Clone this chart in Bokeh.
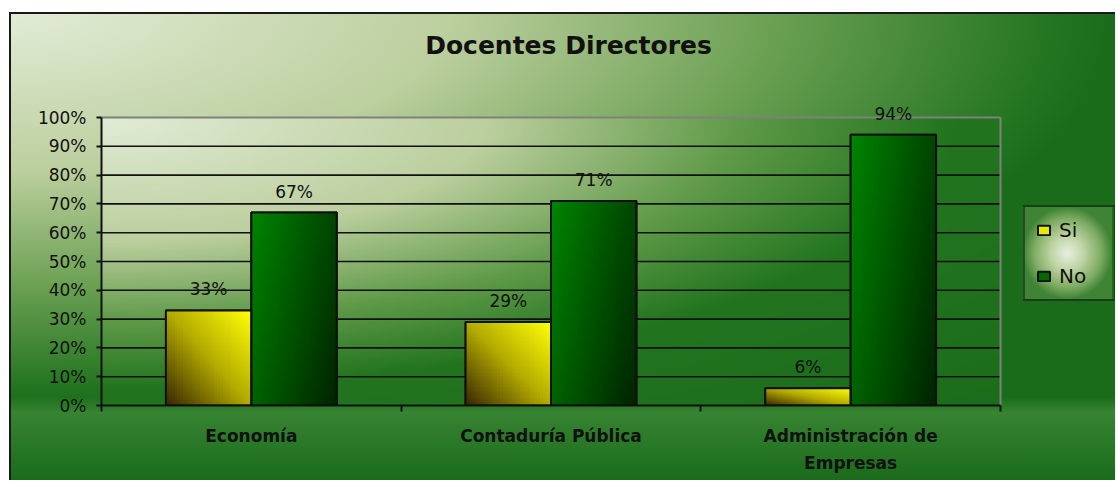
import numpy as np
from bokeh.plotting import figure
from bokeh.models import (Range1d, FixedTicker, NumeralTickFormatter, ColumnDataSource,
                          LabelSet, Label, Legend, LegendItem)
from bokeh.core.properties import value
from bokeh.embed import file_html
from bokeh.resources import INLINE

# ---------------- data ----------------
chart_title = "Docentes Directores"
categories = ["Economía", "Contaduría Pública", "Administración de\nEmpresas"]
series_names = ["Si", "No"]
si_values = [0.33, 0.29, 0.06]
no_values = [0.67, 0.71, 0.94]
y_ticks = [0.0, 0.1, 0.2, 0.3, 0.4, 0.5, 0.6, 0.7, 0.8, 0.9, 1.0]

# ---------------- style ----------------
FONT = "DejaVu Sans"
BAR_W = 0.285
W, H = 1106, 468
LEFT, BOTTOM = 92, 75
X_HEAD = (W - LEFT) / 899.0      # plot area is 899 px wide inside a wider frame
Y_HEAD = (H - BOTTOM) / 288.0    # plot area is 288 px tall inside a taller frame
n = len(categories)
y_max = y_ticks[-1]


def hex2rgb(h):
    h = h.lstrip("#")
    return tuple(int(h[i:i + 2], 16) for i in (0, 2, 4))


def gradient(t, stops):
    pos = np.array([s[0] for s in stops])
    cols = np.array([hex2rgb(s[1]) for s in stops], dtype=float)
    out = np.zeros(t.shape + (3,))
    for c in range(3):
        out[..., c] = np.interp(t, pos, cols[:, c])
    return out


def to_rgba(rgb):
    h, w = rgb.shape[:2]
    img = np.empty((h, w), dtype=np.uint32)
    view = img.view(dtype=np.uint8).reshape((h, w, 4))
    view[..., :3] = np.clip(rgb, 0, 255).astype(np.uint8)
    view[..., 3] = 255
    return img


# plot-area gradient (radial from the top-left corner)
area_stops = [(0.0, "#e2ecd6"), (0.43, "#bccf9e"), (0.71, "#5f9a48"), (0.95, "#22741f"), (1.5, "#1a6c1a")]
gh, gw = 120, 360
u = np.linspace(0, 1, gw)[None, :]
vt = 1 - np.linspace(0, 1, gh)[:, None]          # row 0 is the bottom
bg_img = to_rgba(gradient(np.sqrt(u ** 2 + vt ** 2), area_stops))

# bar gradients
bh, bw = 60, 30
bu = np.linspace(0, 1, bw)[None, :]
bv = np.linspace(0, 1, bh)[:, None]               # 0 bottom, 1 top
yellow_img = to_rgba(gradient((bu + bv) / 2, [(0.0, "#3a2a00"), (0.5, "#b4ac00"), (1.0, "#ffff08")]))
green_img = to_rgba(gradient(0.65 * bu + 0.35 * (1 - bv), [(0.0, "#008400"), (1.0, "#002400")]))

p = figure(width=W, height=H, title=None,
           x_range=Range1d(0, n * X_HEAD), y_range=Range1d(0, y_max * Y_HEAD),
           output_backend="svg", toolbar_location=None,
           min_border_left=LEFT, min_border_top=0, min_border_right=0, min_border_bottom=BOTTOM,
           border_fill_color=None, background_fill_color=None, outline_line_color=None)

css_stops = "#e2ecd6 0%, #bccf9e 40%, #6ea255 68%, #22741f 95%, #1a6c1a 100%"
ry = int(H * 0.85)
p.styles = {
    "margin-left": "9px",
    "margin-top": "12px",
    "background": (
        "radial-gradient(farthest-side at 50% 50%, #e8efe0 0%, #c2d6a8 35%, #7eac62 75%, #3f8434 100%) "
        "1014px 195px / 89px 92px no-repeat, "
        "linear-gradient(180deg, rgba(90,160,80,0) 0px, rgba(90,160,80,0) 385px, "
        "rgba(90,160,80,0.45) 400px, rgba(90,160,80,0) 468px), "
        f"radial-gradient(ellipse {W}px {ry}px at 0px 0px, {css_stops})"
    ),
    "box-shadow": "inset 2px 2px 0 0 #1a1a1a",
}

# plot area background
p.image_rgba(image=[bg_img], x=0, y=0, dw=n, dh=y_max, level="image")

# horizontal grid lines across the plot area only
p.segment(x0=[0] * (len(y_ticks) - 2), x1=[n] * (len(y_ticks) - 2),
          y0=y_ticks[1:-1], y1=y_ticks[1:-1],
          line_color="#111111", line_width=1.6, level="underlay")

# plot area border (top and right), gray
p.segment(x0=[0, n], y0=[y_max, 0], x1=[n, n], y1=[y_max, y_max],
          line_color="#808080", line_width=2)

xs_si = [i + 0.5 - BAR_W / 2 for i in range(n)]
xs_no = [i + 0.5 + BAR_W / 2 for i in range(n)]

r_si = p.vbar(x=xs_si, top=si_values, bottom=0, width=BAR_W,
              fill_color="#e8e800", line_color="#111111", line_width=2)
r_no = p.vbar(x=xs_no, top=no_values, bottom=0, width=BAR_W,
              fill_color="#006a00", line_color="#111111", line_width=2)
p.image_rgba(image=[yellow_img] * n, x=[x - BAR_W / 2 for x in xs_si], y=[0] * n,
             dw=[BAR_W] * n, dh=si_values)
p.image_rgba(image=[green_img] * n, x=[x - BAR_W / 2 for x in xs_no], y=[0] * n,
             dw=[BAR_W] * n, dh=no_values)
p.vbar(x=xs_si, top=si_values, bottom=0, width=BAR_W, fill_color=None,
       line_color="#111111", line_width=2)
p.vbar(x=xs_no, top=no_values, bottom=0, width=BAR_W, fill_color=None,
       line_color="#111111", line_width=2)

# value labels
lab_src = ColumnDataSource(dict(
    x=xs_si + xs_no,
    y=si_values + no_values,
    text=[f"{round(v * 100)}%" for v in si_values + no_values],
))
p.add_layout(LabelSet(x="x", y="y", text="text", source=lab_src, y_offset=21,
                      text_align="center", text_baseline="middle",
                      text_font=value(FONT), text_font_size=value("17px"),
                      text_color=value("#111111")))

# title (inside the tall frame, in screen units)
p.add_layout(Label(x=467, y=360, x_units="screen", y_units="screen", text=chart_title,
                   text_align="center", text_baseline="middle",
                   text_font=FONT, text_font_size="25px", text_font_style="bold",
                   text_color="#111111"))

# y axis
p.yaxis.ticker = FixedTicker(ticks=y_ticks)
p.yaxis.formatter = NumeralTickFormatter(format="0%")
p.yaxis.bounds = (0, y_max)
p.yaxis.axis_line_color = "#111111"
p.yaxis.axis_line_width = 2
p.yaxis.major_tick_line_color = "#111111"
p.yaxis.major_tick_line_width = 2
p.yaxis.major_tick_out = 5
p.yaxis.major_tick_in = 0
p.yaxis.minor_tick_line_color = None
p.yaxis.major_label_standoff = 10
p.yaxis.major_label_text_font = FONT
p.yaxis.major_label_text_font_size = "17px"
p.yaxis.major_label_text_color = "#111111"

# x axis
p.xaxis.ticker = FixedTicker(ticks=[i + 0.5 for i in range(n)], minor_ticks=list(range(n + 1)))
p.xaxis.major_label_overrides = {i + 0.5: c for i, c in enumerate(categories)}
p.xaxis.bounds = (0, n)
p.xaxis.axis_line_color = "#111111"
p.xaxis.axis_line_width = 2
p.xaxis.major_tick_line_color = None
p.xaxis.minor_tick_line_color = "#111111"
p.xaxis.minor_tick_line_width = 2
p.xaxis.minor_tick_out = 6
p.xaxis.minor_tick_in = 0
p.xaxis.major_tick_out = 0
p.xaxis.major_tick_in = 0
p.xaxis.major_label_standoff = 14
p.xaxis.major_label_text_font = FONT
p.xaxis.major_label_text_font_size = "17px"
p.xaxis.major_label_text_font_style = "bold"
p.xaxis.major_label_text_color = "#111111"
p.xaxis.major_label_text_line_height = 1.35

# grids drawn as glyphs above
p.xgrid.visible = False
p.ygrid.visible = False

# legend (inside the wide frame, to the right of the plot area)
legend = Legend(items=[LegendItem(label=series_names[0], renderers=[r_si]),
                       LegendItem(label=series_names[1], renderers=[r_no])],
                location=(922, 104), margin=0, padding=11, spacing=22,
                glyph_width=15, glyph_height=12, label_standoff=8, label_width=44,
                label_text_font=FONT, label_text_font_size="20px", label_text_color="#111111",
                border_line_color="#111111", border_line_width=2,
                background_fill_alpha=0)
p.add_layout(legend)

open("out.html", "w").write(file_html(p, INLINE))
